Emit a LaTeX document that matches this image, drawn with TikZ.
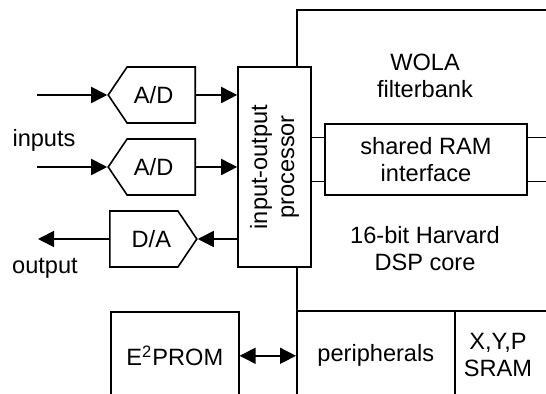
\documentclass[tikz,border=0pt]{standalone}
\usepackage{fontspec}
\setmainfont{Liberation Sans}
\usetikzlibrary{arrows.meta, positioning, shapes.symbols}

\begin{document}
\begin{tikzpicture}[
  x=0.5pt, y=-0.5pt, line width=0.8pt,
  every node/.style={font=\fontsize{11.8}{13.5}\selectfont, align=center},
  block/.style={draw, fill=white, inner sep=0pt},
  conv/.style={draw, fill=white, shape=signal, signal pointer angle=112,
               minimum width=43.5pt, minimum height=28pt, inner sep=0pt},
  arr/.style={-{Triangle[length=8pt, width=8pt]}},
  darr/.style={{Triangle[length=8pt, width=8pt]}-{Triangle[length=8pt, width=8pt]}},
]
  \useasboundingbox (0,0) rectangle (546,394);

  % Chip - DSP core and memories
  \node[block, anchor=north west, minimum width=132pt, minimum height=150.5pt] (dsp) at (296,9) {};
  \node[block, anchor=north west, minimum width=79pt, minimum height=45pt] (periph) at (296,310) {peripherals};
  \node[block, anchor=north west, minimum width=50pt, minimum height=45pt] (sram) at (454,310) {};
  \node (sramtxt) at (498,355) {X,Y,P\\SRAM};
  \node (wola) at (425,76) {WOLA\\filterbank};
  \node (core) at (425,249) {16-bit Harvard\\DSP core};

  % Row - shared RAM
  \node[block, minimum width=101pt, minimum height=35.5pt] (ram) at (426,159.5) {shared RAM\\interface};

  % Input-output processor
  \node[block, minimum width=36.5pt, minimum height=100pt] (proc) at (274.5,167) {};
  \node[rotate=90] (proctxt) at (proc.center) {input-output\\processor};

  % Converters
  \node[conv, signal to=west, anchor=east] (ad1) at (196,95) {A/D\hspace*{7.5pt}};
  \node[conv, signal to=west, anchor=east] (ad2) at (196,167) {A/D\hspace*{7.5pt}};
  \node[conv, signal to=east, anchor=west] (da) at (109,239) {\hspace*{7.5pt}D/A};

  % E2PROM
  \node[block, anchor=north west, minimum width=64pt, minimum height=44pt] (eeprom) at (110,311) {E\textsuperscript{2}PROM};

  % Labels
  \node (inlbl) at (44,140) {inputs};
  \node (outlbl) at (45,268) {output};
  \coordinate (in1) at (37,95);
  \coordinate (in2) at (37,167);
  \coordinate (out) at (38,239);

  % Arrows
  \draw[arr] (in1) -- (ad1.west);
  \draw[arr] (in2) -- (ad2.west);
  \draw[arr] (ad1.east) -- (ad1.east -| proc.west);
  \draw[arr] (ad2.east) -- (ad2.east -| proc.west);
  \draw[arr] (da.east -| proc.west) -- (da.east);
  \draw[arr] (da.west) -- (out);
  \draw[darr] (eeprom.east) -- (periph.west);

  % RAM interface lines
  \draw ([yshift=11pt]ram.west) -- ([yshift=11pt]ram.west -| proc.east);
  \draw ([yshift=-11pt]ram.west) -- ([yshift=-11pt]ram.west -| proc.east);
  \draw ([yshift=11pt]ram.east) -- ([yshift=11pt]ram.east -| dsp.east);
  \draw ([yshift=-11pt]ram.east) -- ([yshift=-11pt]ram.east -| dsp.east);
\end{tikzpicture}
\end{document}
